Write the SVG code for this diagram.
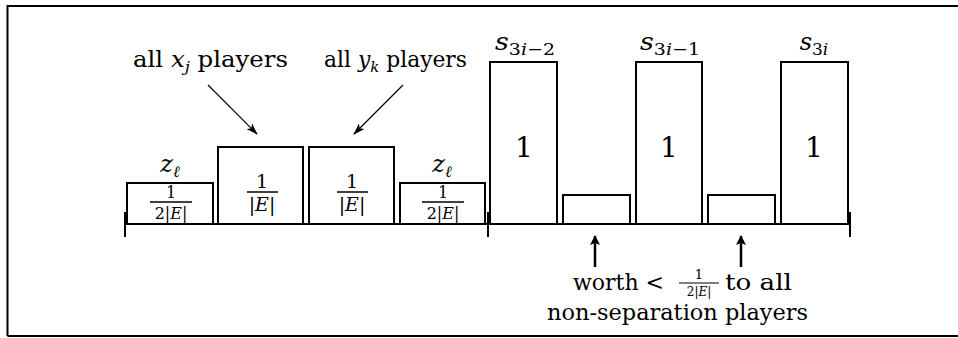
<svg xmlns="http://www.w3.org/2000/svg" width="958" height="338" viewBox="0 0 958 338">
<style>
text{font-family:"DejaVu Serif","Liberation Serif",serif;fill:#000}
.box{fill:#fff;stroke:#000;stroke-width:2}
.ln{stroke:#000;stroke-width:2;fill:none}
.it{font-style:italic}
</style>
<defs>
<marker id="ah" markerWidth="12" markerHeight="8" refX="11" refY="4" orient="auto" markerUnits="userSpaceOnUse">
<path d="M0,0 L12,4 L0,8 L3,4 Z" fill="#000"/>
</marker>
<marker id="ahb" markerWidth="10" markerHeight="12" refX="9" refY="6" orient="auto" markerUnits="userSpaceOnUse">
<path d="M0,1 L10,6 L0,11 L2,6 Z" fill="#000"/>
</marker>
</defs>
<rect x="0" y="0" width="958" height="338" fill="#fff"/>
<path d="M7.5,336 L7.5,6 L962,6 M7.5,336 L962,336" class="ln" stroke-width="2.5"/>

<g id="connectors">
<path class="ln" d="M125,224 L850,224 M125,212 L125,237 M488,212 L488,237 M850,212 L850,237"/>
<line x1="208" y1="85" x2="257" y2="134" stroke="#000" stroke-width="1.2" marker-end="url(#ah)"/>
<line x1="403" y1="85" x2="354" y2="134" stroke="#000" stroke-width="1.2" marker-end="url(#ah)"/>
<line x1="595" y1="267" x2="595" y2="236" stroke="#000" stroke-width="2.5" marker-end="url(#ahb)"/>
<line x1="741" y1="267" x2="741" y2="236" stroke="#000" stroke-width="2.5" marker-end="url(#ahb)"/>
</g>

<g id="z1">
<rect class="box" x="127" y="183" width="86" height="41"/>
<text x="170" y="172" font-size="24" text-anchor="middle"><tspan class="it">z</tspan><tspan class="it" font-size="16" dy="5">ℓ</tspan></text>
<text x="171" y="198" font-size="16" text-anchor="middle">1</text>
<line x1="150" y1="202" x2="192" y2="202" stroke="#000" stroke-width="1.5"/>
<text x="171" y="219" font-size="16" text-anchor="middle">2|<tspan class="it">E</tspan>|</text>
</g>

<g id="xj">
<rect class="box" x="218" y="147" width="85" height="77"/>
<text x="262" y="188" font-size="19" text-anchor="middle">1</text>
<line x1="247" y1="192" x2="278" y2="192" stroke="#000" stroke-width="1.5"/>
<text x="262" y="211" font-size="19" text-anchor="middle">|<tspan class="it">E</tspan>|</text>
</g>

<g id="yk">
<rect class="box" x="309" y="147" width="85" height="77"/>
<text x="352" y="188" font-size="19" text-anchor="middle">1</text>
<line x1="337" y1="192" x2="368" y2="192" stroke="#000" stroke-width="1.5"/>
<text x="352" y="211" font-size="19" text-anchor="middle">|<tspan class="it">E</tspan>|</text>
</g>

<g id="z2">
<rect class="box" x="400" y="183" width="85" height="41"/>
<text x="442" y="172" font-size="24" text-anchor="middle"><tspan class="it">z</tspan><tspan class="it" font-size="16" dy="5">ℓ</tspan></text>
<text x="443" y="198" font-size="16" text-anchor="middle">1</text>
<line x1="422" y1="202" x2="464" y2="202" stroke="#000" stroke-width="1.5"/>
<text x="443" y="219" font-size="16" text-anchor="middle">2|<tspan class="it">E</tspan>|</text>
</g>

<g id="s1">
<rect class="box" x="490" y="62" width="67" height="162"/>
<text x="495" y="50" font-size="24" textLength="60" lengthAdjust="spacingAndGlyphs"><tspan class="it">s</tspan><tspan font-size="17" dy="5">3<tspan class="it">i</tspan>−2</tspan></text>
<text x="524" y="157" font-size="28" text-anchor="middle">1</text>
</g>

<g id="g1">
<rect class="box" x="563" y="195" width="67" height="29"/>
</g>

<g id="s2">
<rect class="box" x="636" y="62" width="66" height="162"/>
<text x="640" y="50" font-size="24" textLength="60" lengthAdjust="spacingAndGlyphs"><tspan class="it">s</tspan><tspan font-size="17" dy="5">3<tspan class="it">i</tspan>−1</tspan></text>
<text x="669" y="157" font-size="28" text-anchor="middle">1</text>
</g>

<g id="g2">
<rect class="box" x="708" y="195" width="67" height="29"/>
</g>

<g id="s3">
<rect class="box" x="781" y="62" width="67" height="162"/>
<text x="814" y="50" font-size="24" text-anchor="middle"><tspan class="it">s</tspan><tspan font-size="17" dy="5">3<tspan class="it">i</tspan></tspan></text>
<text x="814" y="157" font-size="28" text-anchor="middle">1</text>
</g>

<g id="labels">
<text x="133" y="67" font-size="22" textLength="155" lengthAdjust="spacingAndGlyphs">all <tspan class="it">x</tspan><tspan class="it" font-size="15" dy="5">j</tspan><tspan dy="-5"> players</tspan></text>
<text x="324" y="67" font-size="22" textLength="143" lengthAdjust="spacingAndGlyphs">all <tspan class="it">y</tspan><tspan class="it" font-size="15" dy="5">k</tspan><tspan dy="-5"> players</tspan></text>
<text x="573" y="290" font-size="22" textLength="91" lengthAdjust="spacingAndGlyphs">worth &lt;</text>
<text x="699" y="279" font-size="13" text-anchor="middle">1</text>
<line x1="679" y1="283" x2="719" y2="283" stroke="#000" stroke-width="1.2"/>
<text x="699" y="296" font-size="12" text-anchor="middle">2|<tspan class="it">E</tspan>|</text>
<text x="725" y="290" font-size="22" textLength="67" lengthAdjust="spacingAndGlyphs">to all</text>
<text x="547" y="320" font-size="22" textLength="261" lengthAdjust="spacingAndGlyphs">non-separation players</text>
</g>
</svg>
